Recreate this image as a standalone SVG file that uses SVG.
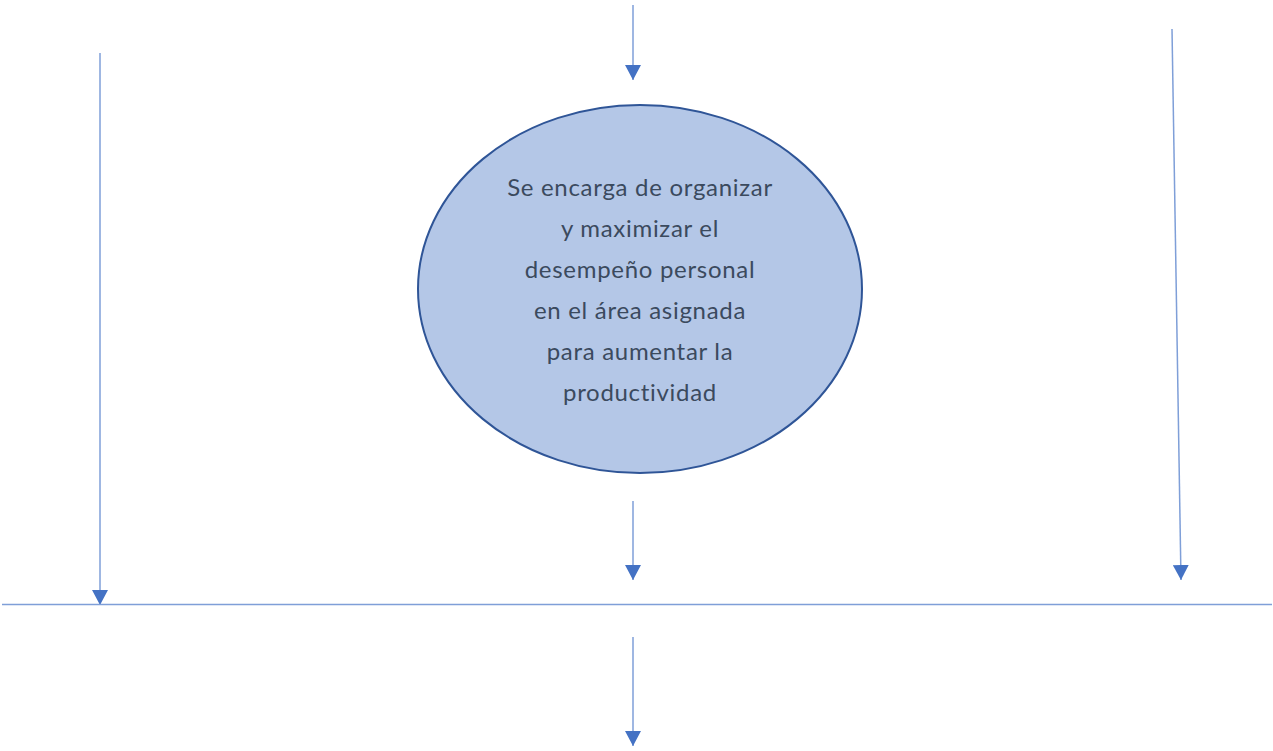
<svg xmlns="http://www.w3.org/2000/svg" width="1273" height="751" viewBox="0 0 1273 751">
<style>
.c{stroke:#7F9FD8;stroke-width:1.5;fill:none;marker-end:url(#ah)}
.t{font-family:Lato,"Open Sans",sans-serif;font-size:24px;letter-spacing:0.7px;fill:#3B4A5E;text-anchor:middle}
</style>
<defs>
<marker id="ah" markerUnits="userSpaceOnUse" markerWidth="16" markerHeight="16" viewBox="0 0 16 16" refX="15" refY="8" orient="auto">
<path d="M0,0 L15,8 L0,16 Z" fill="#4472C4"/>
</marker>
</defs>
<rect width="1273" height="751" fill="#fff"/>
<g id="connectors">
<line class="c" x1="633" y1="5" x2="633" y2="80"/>
<line class="c" x1="100" y1="53" x2="100" y2="605"/>
<line class="c" x1="1172" y1="29" x2="1181" y2="580"/>
<line class="c" x1="633" y1="501" x2="633" y2="580"/>
<line class="c" x1="633" y1="637" x2="633" y2="746"/>
<line x1="2" y1="604.5" x2="1272" y2="604.5" stroke="#7F9FD8" stroke-width="1.5"/>
</g>
<g id="node1">
<ellipse cx="640" cy="289" rx="222" ry="184" fill="#B4C7E7" stroke="#2F5597" stroke-width="2"/>
<text class="t" x="640" y="196">Se encarga de organizar</text>
<text class="t" x="640" y="237">y maximizar el</text>
<text class="t" x="640" y="278">desempeño personal</text>
<text class="t" x="640" y="319">en el área asignada</text>
<text class="t" x="640" y="360">para aumentar la</text>
<text class="t" x="640" y="401">productividad</text>
</g>
</svg>
